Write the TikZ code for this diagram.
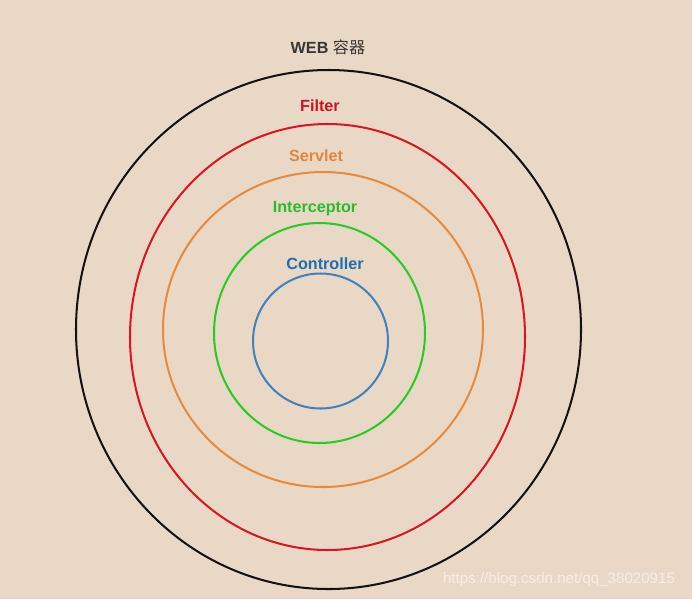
\documentclass[tikz,border=0pt]{standalone}
\usepackage{fontspec}
\setmainfont{Liberation Sans}
\newfontfamily\cjk{Noto Sans CJK SC}
\usepackage{xcolor}

\definecolor{bgcol}{RGB}{234,216,199}
\definecolor{webcol}{RGB}{20,18,16}
\definecolor{filtercol}{RGB}{218,22,32}
\definecolor{servletcol}{RGB}{230,138,62}
\definecolor{intercol}{RGB}{36,204,36}
\definecolor{ctrlcol}{RGB}{66,128,190}
\definecolor{filtertxt}{RGB}{204,20,30}
\definecolor{servlettxt}{RGB}{224,134,60}
\definecolor{intertxt}{RGB}{40,190,40}
\definecolor{ctrltxt}{RGB}{30,110,176}
\definecolor{marktxt}{RGB}{246,238,230}

\tikzset{
  ring/.style={line width=1.15pt},
  lbl/.style={font=\fontsize{9.2}{11}\selectfont\bfseries, inner sep=0pt}
}

\begin{document}
\begin{tikzpicture}[x=0.02cm,y=-0.02cm]

  \fill[bgcol] (0,0) rectangle (692,599);
  \useasboundingbox (0,0) rectangle (692,599);

  \draw[ring,webcol] (328.5,329.5) ellipse (252.5 and 259.5);
  \draw[ring,filtercol] (327.5,337) ellipse (197.5 and 213);
  \draw[ring,servletcol] (323,329.5) ellipse (160 and 157.5);
  \draw[ring,intercol] (319.5,333) ellipse (105.5 and 110);
  \draw[ring,ctrlcol] (320.5,341) ellipse (67.5 and 67.5);

  \node[lbl,color=webcol!85] (web) at (328,47) {WEB {\cjk\mdseries 容器}};
  \node[lbl,color=filtertxt] (filter) at (320,106) {Filter};
  \node[lbl,color=servlettxt] (servlet) at (316,156) {Servlet};
  \node[lbl,color=intertxt] (interceptor) at (315,208.5) {Interceptor};
  \node[lbl,color=ctrltxt] (controller) at (325,264) {Controller};

  \node[font=\fontsize{8.6}{10}\selectfont, color=marktxt, inner sep=0pt] (mark) at (559,580) {https://blog.csdn.net/qq\_38020915};

\end{tikzpicture}
\end{document}
